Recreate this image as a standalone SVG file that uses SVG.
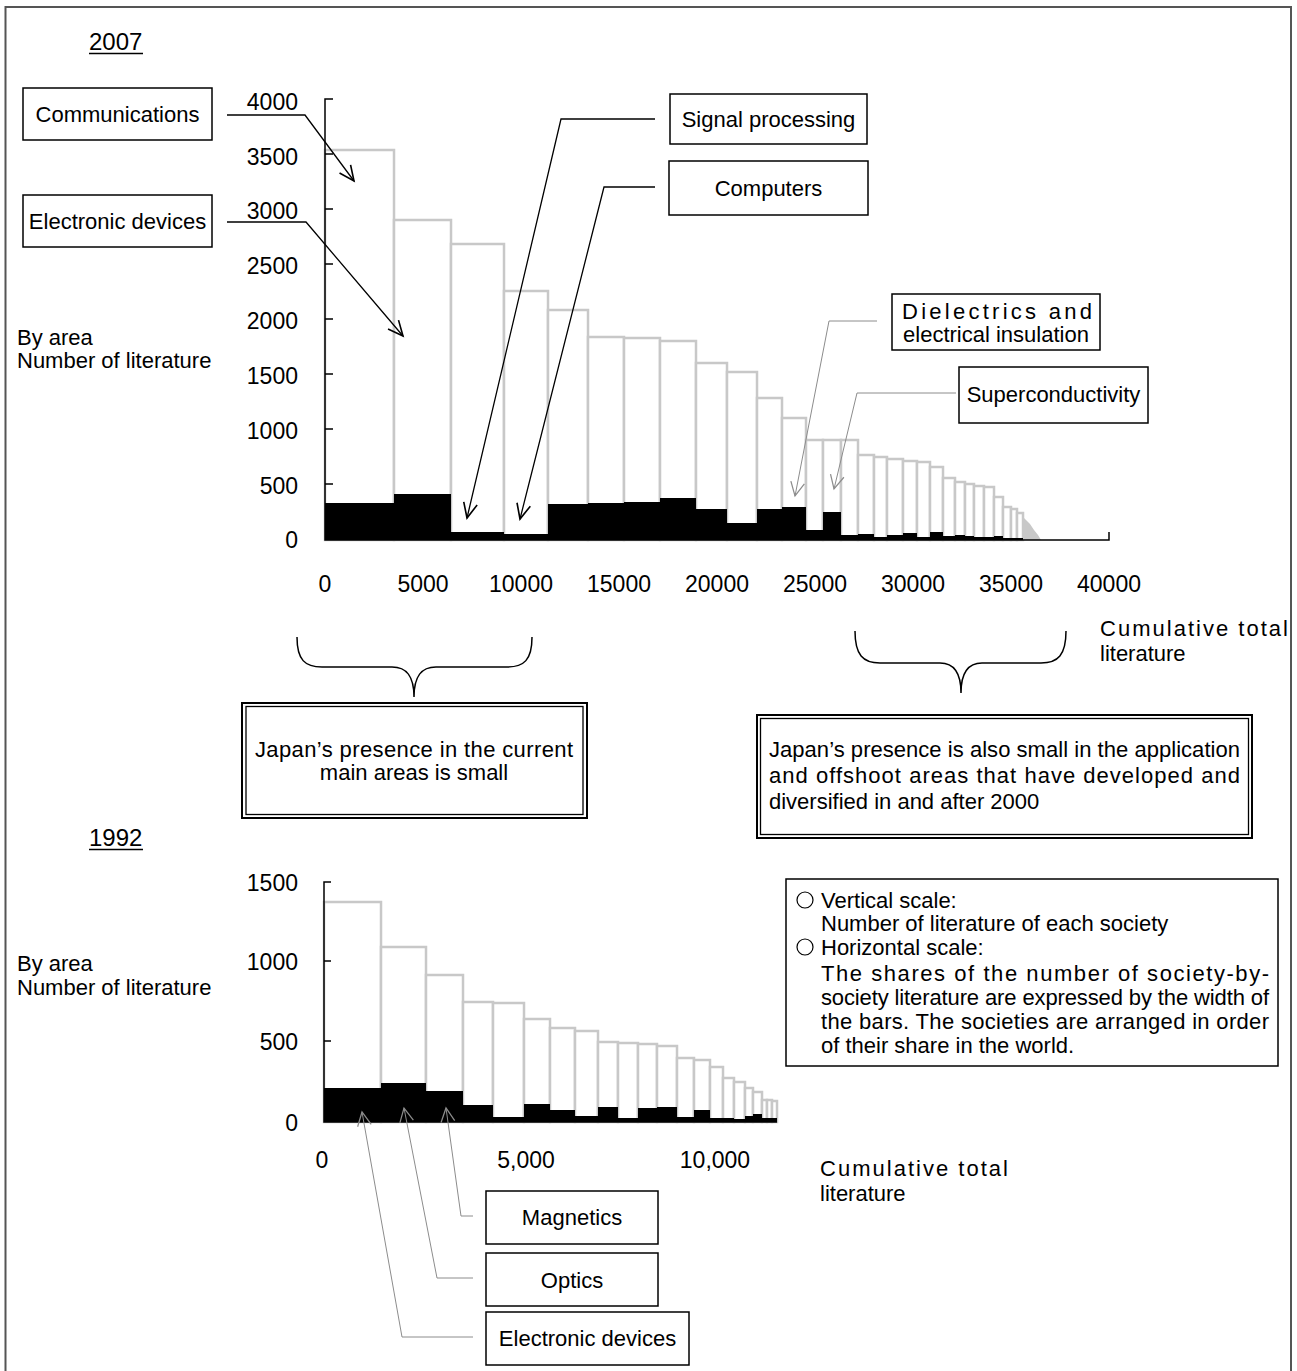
<svg xmlns="http://www.w3.org/2000/svg" width="1297" height="1371" viewBox="0 0 1297 1371">
<style>
text{font-family:"Liberation Sans",Arial,sans-serif;font-size:22px;fill:#000}
.tick{font-size:23px;text-anchor:end}
.xl{font-size:23px;text-anchor:middle}
.c{text-anchor:middle}
.box{fill:#fff;stroke:#000;stroke-width:1.5}
.bar{fill:#fff;stroke:#c8c8c8;stroke-width:2.5}
.blk{fill:#000}
.ax{stroke:#000;stroke-width:1.5;fill:none}
.ld{fill:none;stroke:#000;stroke-width:1.3}
.lg{fill:none;stroke:#8c8c8c;stroke-width:1}
</style>
<defs>
<marker id="ab" markerUnits="userSpaceOnUse" markerWidth="20" markerHeight="20" viewBox="-14 -8 16 16" refX="0" refY="0" orient="auto">
<path d="M-12,-5.5 L0,0 L-12,5.5" fill="none" stroke="#000" stroke-width="1.3"/>
</marker>
<marker id="ag" markerUnits="userSpaceOnUse" markerWidth="20" markerHeight="20" viewBox="-14 -8 16 16" refX="0" refY="0" orient="auto">
<path d="M-11,-5.5 L0,0 L-11,5.5" fill="none" stroke="#8c8c8c" stroke-width="1"/>
</marker>
</defs>
<rect x="0" y="0" width="1297" height="1371" fill="#fff"/>
<rect x="5.5" y="7" width="1285.5" height="1380" fill="none" stroke="#555" stroke-width="2"/>

<!-- 2007 chart -->
<g id="chart2007">
<text x="89" y="50" style="font-size:24px">2007</text>
<line x1="89" y1="53.5" x2="143" y2="53.5" stroke="#000" stroke-width="1.3"/>
<text x="17" y="345">By area</text>
<text x="17" y="368">Number of literature</text>
<g id="bars2007">
<rect class="bar" x="325" y="150" width="69" height="390"/>
<rect class="bar" x="394" y="220" width="57" height="320"/>
<rect class="bar" x="451" y="244" width="53" height="296"/>
<rect class="bar" x="504" y="291" width="44" height="249"/>
<rect class="bar" x="548" y="310" width="40" height="230"/>
<rect class="bar" x="588" y="337" width="36" height="203"/>
<rect class="bar" x="624" y="338" width="36" height="202"/>
<rect class="bar" x="660" y="341" width="36" height="199"/>
<rect class="bar" x="696" y="363" width="31" height="177"/>
<rect class="bar" x="727" y="372" width="30" height="168"/>
<rect class="bar" x="757" y="398" width="25" height="142"/>
<rect class="bar" x="782" y="418" width="24" height="122"/>
<rect class="bar" x="806" y="440" width="17" height="100"/>
<rect class="bar" x="823" y="440" width="18" height="100"/>
<rect class="bar" x="841" y="440" width="17" height="100"/>
<rect class="bar" x="858" y="455" width="16" height="85"/>
<rect class="bar" x="874" y="457" width="13" height="83"/>
<rect class="bar" x="887" y="459" width="16" height="81"/>
<rect class="bar" x="903" y="461" width="14" height="79"/>
<rect class="bar" x="917" y="462" width="13" height="78"/>
<rect class="bar" x="930" y="467" width="13" height="73"/>
<rect class="bar" x="943" y="478" width="12" height="62"/>
<rect class="bar" x="955" y="482" width="10" height="58"/>
<rect class="bar" x="965" y="484" width="9" height="56"/>
<rect class="bar" x="974" y="486" width="10" height="54"/>
<rect class="bar" x="984" y="487" width="10" height="53"/>
<rect class="bar" x="994" y="497" width="9" height="43"/>
<rect class="bar" x="1003" y="507" width="8" height="33"/>
<rect class="bar" x="1011" y="509" width="6" height="31"/>
<rect class="bar" x="1017" y="513" width="6" height="27"/>
<polygon points="1022,516 1026,520 1030,524 1034,530 1038,535 1041,540 1022,540" fill="#c8c8c8"/>
<rect class="blk" x="325" y="503" width="69" height="37"/>
<rect class="blk" x="394" y="494" width="57" height="46"/>
<rect class="blk" x="451" y="532" width="53" height="8"/>
<rect class="blk" x="504" y="534" width="44" height="6"/>
<rect class="blk" x="548" y="504" width="40" height="36"/>
<rect class="blk" x="588" y="503" width="36" height="37"/>
<rect class="blk" x="624" y="502" width="36" height="38"/>
<rect class="blk" x="660" y="498" width="36" height="42"/>
<rect class="blk" x="696" y="509" width="31" height="31"/>
<rect class="blk" x="727" y="523" width="30" height="17"/>
<rect class="blk" x="757" y="509" width="25" height="31"/>
<rect class="blk" x="782" y="507" width="24" height="33"/>
<rect class="blk" x="806" y="530" width="17" height="10"/>
<rect class="blk" x="823" y="512" width="18" height="28"/>
<rect class="blk" x="841" y="535" width="17" height="5"/>
<rect class="blk" x="858" y="534" width="16" height="6"/>
<rect class="blk" x="874" y="537" width="13" height="3"/>
<rect class="blk" x="887" y="535" width="16" height="5"/>
<rect class="blk" x="903" y="533" width="14" height="7"/>
<rect class="blk" x="917" y="537" width="13" height="3"/>
<rect class="blk" x="930" y="532" width="13" height="8"/>
<rect class="blk" x="943" y="536" width="12" height="4"/>
<rect class="blk" x="955" y="535" width="10" height="5"/>
<rect class="blk" x="965" y="536" width="9" height="4"/>
<rect class="blk" x="974" y="537" width="10" height="3"/>
<rect class="blk" x="984" y="537" width="10" height="3"/>
<rect class="blk" x="994" y="536" width="9" height="4"/>
<rect class="blk" x="1003" y="538" width="20" height="2"/>
</g>
<g id="axes2007">
<path class="ax" d="M333,99 H325 V540 H1109 V532"/>
<path class="ax" d="M325,154 H333 M325,209 H333 M325,264 H333 M325,319 H333 M325,374 H333 M325,429 H333 M325,484 H333"/>
<text class="tick" x="298" y="110">4000</text>
<text class="tick" x="298" y="165">3500</text>
<text class="tick" x="298" y="219">3000</text>
<text class="tick" x="298" y="274">2500</text>
<text class="tick" x="298" y="329">2000</text>
<text class="tick" x="298" y="384">1500</text>
<text class="tick" x="298" y="439">1000</text>
<text class="tick" x="298" y="494">500</text>
<text class="tick" x="298" y="548">0</text>
<text class="xl" x="325" y="592">0</text>
<text class="xl" x="423" y="592">5000</text>
<text class="xl" x="521" y="592">10000</text>
<text class="xl" x="619" y="592">15000</text>
<text class="xl" x="717" y="592">20000</text>
<text class="xl" x="815" y="592">25000</text>
<text class="xl" x="913" y="592">30000</text>
<text class="xl" x="1011" y="592">35000</text>
<text class="xl" x="1109" y="592">40000</text>
<text x="1100" y="636" textLength="188" lengthAdjust="spacing">Cumulative total</text>
<text x="1100" y="661">literature</text>
</g>
</g>

<g id="node-communications">
<rect class="box" x="23" y="88" width="189" height="52"/>
<text class="c" x="117.5" y="122">Communications</text>
</g>
<g id="node-electronic-devices-2007">
<rect class="box" x="23" y="195" width="189" height="52"/>
<text class="c" x="117.5" y="229">Electronic devices</text>
</g>
<g id="node-signal-processing">
<rect class="box" x="670" y="94" width="197" height="50"/>
<text class="c" x="768.5" y="127">Signal processing</text>
</g>
<g id="node-computers">
<rect class="box" x="669" y="161" width="199" height="54"/>
<text class="c" x="768.5" y="196">Computers</text>
</g>
<g id="node-dielectrics">
<rect class="box" x="892" y="294" width="208" height="56"/>
<text x="902" y="319" textLength="190" lengthAdjust="spacing">Dielectrics and</text>
<text class="c" x="996" y="342">electrical insulation</text>
</g>
<g id="node-superconductivity">
<rect class="box" x="959" y="367" width="189" height="56"/>
<text class="c" x="1053.5" y="402">Superconductivity</text>
</g>

<g id="node-main-areas">
<rect x="242" y="703" width="345" height="115" fill="#fff" stroke="#000" stroke-width="2"/>
<rect x="246" y="706.5" width="337" height="108" fill="none" stroke="#000" stroke-width="1.3"/>
<text x="255" y="757" textLength="318" lengthAdjust="spacing">Japan’s presence in the current</text>
<text class="c" x="414" y="780">main areas is small</text>
</g>
<g id="node-offshoot-areas">
<rect x="757" y="715" width="495" height="123" fill="#fff" stroke="#000" stroke-width="2"/>
<rect x="760.5" y="718.5" width="488" height="116" fill="none" stroke="#000" stroke-width="1.3"/>
<text x="769" y="757" textLength="471" lengthAdjust="spacing">Japan’s presence is also small in the application</text>
<text x="769" y="783" textLength="471" lengthAdjust="spacing">and offshoot areas that have developed and</text>
<text x="769" y="809">diversified in and after 2000</text>
</g>

<!-- 1992 chart -->
<g id="chart1992">
<text x="89" y="846" style="font-size:24px">1992</text>
<line x1="89" y1="849.5" x2="143" y2="849.5" stroke="#000" stroke-width="1.3"/>
<text x="17" y="971">By area</text>
<text x="17" y="995">Number of literature</text>
<g id="bars1992">
<rect class="bar" x="324" y="902" width="57" height="220"/>
<rect class="bar" x="381" y="947" width="45" height="175"/>
<rect class="bar" x="426" y="975" width="37" height="147"/>
<rect class="bar" x="463" y="1002" width="30" height="120"/>
<rect class="bar" x="493" y="1003" width="31" height="119"/>
<rect class="bar" x="524" y="1019" width="26" height="103"/>
<rect class="bar" x="550" y="1028" width="25" height="94"/>
<rect class="bar" x="575" y="1031" width="23" height="91"/>
<rect class="bar" x="598" y="1042" width="20" height="80"/>
<rect class="bar" x="618" y="1043" width="20" height="79"/>
<rect class="bar" x="638" y="1044" width="19" height="78"/>
<rect class="bar" x="657" y="1046" width="20" height="76"/>
<rect class="bar" x="677" y="1058" width="17" height="64"/>
<rect class="bar" x="694" y="1060" width="16" height="62"/>
<rect class="bar" x="710" y="1067" width="13" height="55"/>
<rect class="bar" x="723" y="1078" width="11" height="44"/>
<rect class="bar" x="734" y="1082" width="11" height="40"/>
<rect class="bar" x="745" y="1088" width="8" height="34"/>
<rect class="bar" x="753" y="1092" width="9" height="30"/>
<rect class="bar" x="762" y="1100" width="5" height="22"/>
<rect class="bar" x="767" y="1100" width="5" height="22"/>
<rect class="bar" x="772" y="1101" width="5" height="21"/>
<rect class="blk" x="324" y="1088" width="57" height="34"/>
<rect class="blk" x="381" y="1083" width="45" height="39"/>
<rect class="blk" x="426" y="1091" width="37" height="31"/>
<rect class="blk" x="463" y="1105" width="30" height="17"/>
<rect class="blk" x="493" y="1117" width="31" height="5"/>
<rect class="blk" x="524" y="1104" width="26" height="18"/>
<rect class="blk" x="550" y="1110" width="25" height="12"/>
<rect class="blk" x="575" y="1116" width="23" height="6"/>
<rect class="blk" x="598" y="1107" width="20" height="15"/>
<rect class="blk" x="618" y="1118" width="20" height="4"/>
<rect class="blk" x="638" y="1108" width="19" height="14"/>
<rect class="blk" x="657" y="1107" width="20" height="15"/>
<rect class="blk" x="677" y="1117" width="17" height="5"/>
<rect class="blk" x="694" y="1110" width="16" height="12"/>
<rect class="blk" x="710" y="1118" width="13" height="4"/>
<rect class="blk" x="723" y="1118" width="11" height="4"/>
<rect class="blk" x="734" y="1119" width="11" height="3"/>
<rect class="blk" x="745" y="1116" width="8" height="6"/>
<rect class="blk" x="753" y="1114" width="9" height="8"/>
<rect class="blk" x="762" y="1118" width="15" height="4"/>
</g>
<g id="axes1992">
<path class="ax" d="M331,882 H324 V1122 H777"/>
<path class="ax" d="M324,961 H331 M324,1041 H331"/>
<text class="tick" x="298" y="891">1500</text>
<text class="tick" x="298" y="970">1000</text>
<text class="tick" x="298" y="1050">500</text>
<text class="tick" x="298" y="1131">0</text>
<text class="xl" x="322" y="1168">0</text>
<text class="xl" x="526" y="1168">5,000</text>
<text class="xl" x="715" y="1168">10,000</text>
<text x="820" y="1176" textLength="188" lengthAdjust="spacing">Cumulative total</text>
<text x="820" y="1201">literature</text>
</g>
</g>

<g id="node-legend">
<rect class="box" x="786" y="879" width="492" height="187"/>
<circle cx="805" cy="900" r="8" fill="none" stroke="#000" stroke-width="1.2"/>
<text x="821" y="908">Vertical scale:</text>
<text x="821" y="931">Number of literature of each society</text>
<circle cx="805" cy="947" r="8" fill="none" stroke="#000" stroke-width="1.2"/>
<text x="821" y="955">Horizontal scale:</text>
<text x="821" y="981" textLength="448" lengthAdjust="spacing">The shares of the number of society-by-</text>
<text x="821" y="1005" textLength="448" lengthAdjust="spacing">society literature are expressed by the width of</text>
<text x="821" y="1029" textLength="448" lengthAdjust="spacing">the bars. The societies are arranged in order</text>
<text x="821" y="1053">of their share in the world.</text>
</g>

<g id="node-magnetics">
<rect class="box" x="486" y="1191" width="172" height="53"/>
<text class="c" x="572" y="1225">Magnetics</text>
</g>
<g id="node-optics">
<rect class="box" x="486" y="1253" width="172" height="53"/>
<text class="c" x="572" y="1288">Optics</text>
</g>
<g id="node-electronic-devices-1992">
<rect class="box" x="486" y="1312" width="203" height="53"/>
<text class="c" x="587.5" y="1346">Electronic devices</text>
</g>

<g id="connectors">
<polyline class="ld" points="227,115 305,115 354,181" marker-end="url(#ab)"/>
<polyline class="ld" points="227,222 306,222 403,336" marker-end="url(#ab)"/>
<polyline class="ld" points="655,119 561,119 467,518" marker-end="url(#ab)"/>
<polyline class="ld" points="655,187 604,187 520,519" marker-end="url(#ab)"/>
<polyline class="lg" points="877,321 829,321 795,496" marker-end="url(#ag)"/>
<polyline class="lg" points="956,393 857,393 834,489" marker-end="url(#ag)"/>
<polyline class="lg" points="473,1216 461,1216 446,1108" marker-end="url(#ag)"/>
<polyline class="lg" points="473,1278 437,1278 404,1108" marker-end="url(#ag)"/>
<polyline class="lg" points="473,1337 402,1337 362,1112" marker-end="url(#ag)"/>
<path fill="none" stroke="#000" stroke-width="1.5" d="M297,637 C297,660 305,667 322,667 L392,667 C406,667 414,675 414,697 C414,675 422,667 436,667 L507,667 C524,667 532,660 532,637"/>
<path fill="none" stroke="#000" stroke-width="1.5" d="M855,631 C855,655 863,663 880,663 L940,663 C953,663 961,671 961,693 C961,671 969,663 982,663 L1041,663 C1058,663 1066,655 1066,631"/>
</g>
</svg>
